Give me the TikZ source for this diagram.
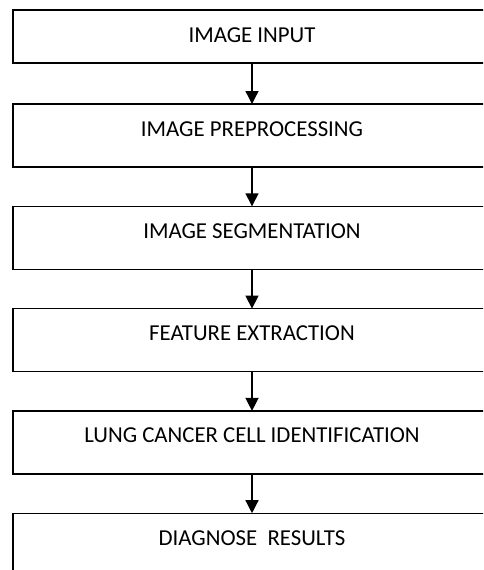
\documentclass[tikz,border=0pt]{standalone}
\usepackage{fontspec}
\setmainfont{Carlito}
\usetikzlibrary{positioning,arrows.meta}
\tikzset{
  stage/.style={draw, line width=1.4pt, rectangle, minimum width=478pt, minimum height=63pt,
    outer sep=0pt, inner xsep=0pt, inner ysep=0pt, text height=32pt, text depth=31pt,
    font=\fontsize{22.8}{25}\selectfont},
  flow/.style={line width=1.4pt, -{Triangle[width=13pt,length=13pt]}}
}

\begin{document}
\begin{tikzpicture}[x=1pt, y=1pt, node distance=39.3pt]
      \clip (0,0) rectangle (483,-570);
      % Define nodes
      \node[stage, minimum height=53pt, text depth=21pt] (input) at (252,-36.5) {IMAGE INPUT};
      \node[stage, below=41pt of input] (prep) {IMAGE PREPROCESSING};
      \node[stage, below=of prep]    (seg)  {IMAGE SEGMENTATION};
      \node[stage, below=of seg]     (feat) {FEATURE EXTRACTION};
      \node[stage, below=of feat]    (ident) {LUNG CANCER CELL IDENTIFICATION};
      \node[stage, below=of ident]   (diag) {DIAGNOSE\ \ RESULTS};
      % Connect nodes
      \draw[flow] (input) -- (prep);
      \draw[flow] (prep) -- (seg);
      \draw[flow] (seg) -- (feat);
      \draw[flow] (feat) -- (ident);
      \draw[flow] (ident) -- (diag);
    \end{tikzpicture}
\end{document}
